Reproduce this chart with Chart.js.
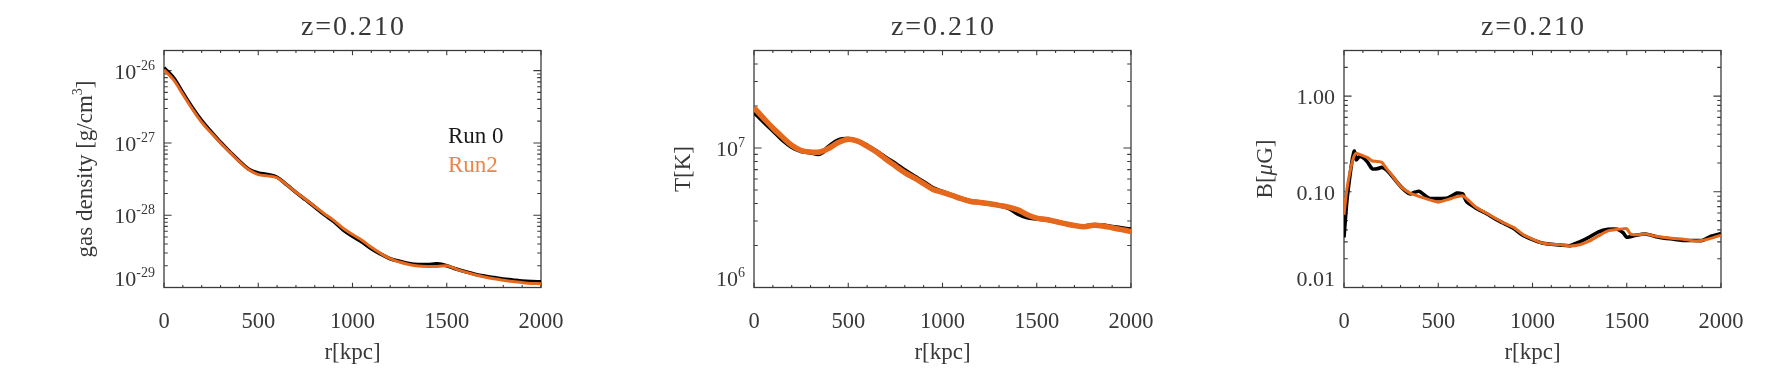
<!DOCTYPE html>
<html>
<head>
<meta charset="utf-8">
<script src="https://cdn.jsdelivr.net/npm/chart.js@4/dist/chart.umd.min.js"></script>
<style>
  html, body { margin: 0; padding: 0; background: #ffffff; }
  #wrap { position: relative; width: 1770px; height: 392px; overflow: hidden; }
  .panel { position: absolute; top: 0; width: 590px; height: 392px; }
  canvas { display: block; }
</style>
</head>
<body>
<div id="wrap">
  <div class="panel" style="left:0px"><canvas id="c1" width="590" height="392"></canvas></div>
  <div class="panel" style="left:590px"><canvas id="c2" width="590" height="392"></canvas></div>
  <div class="panel" style="left:1180px"><canvas id="c3" width="590" height="392"></canvas></div>
</div>
<script>
// ---------------- DATA ----------------
const titleText = 'z=0.210';
const seriesNames = ['Run 0', 'Run2'];

const rTicks = [0, 500, 1000, 1500, 2000];

// radius grid (kpc) for density and temperature profiles
const rGrid = [0, 50, 100, 150, 200, 250, 300, 350, 400, 450, 500, 550, 600, 650, 700, 750, 800, 850, 900, 950,
  1000, 1050, 1100, 1150, 1200, 1250, 1300, 1350, 1400, 1450, 1500, 1550, 1600, 1650, 1700, 1750, 1800, 1850, 1900, 1950, 2000];

// gas density [g/cm^3]
const densityRun0 = [1.10e-26, 8.0e-27, 4.95e-27, 3.1e-27, 2.04e-27, 1.43e-27, 1.02e-27, 7.5e-28, 5.6e-28, 4.33e-28,
  3.85e-28, 3.65e-28, 3.35e-28, 2.65e-28, 2.07e-28, 1.64e-28, 1.30e-28, 1.02e-28, 8.2e-29, 6.3e-29,
  5.1e-29, 4.25e-29, 3.45e-29, 2.9e-29, 2.5e-29, 2.3e-29, 2.15e-29, 2.08e-29, 2.08e-29, 2.12e-29,
  2.0e-29, 1.8e-29, 1.65e-29, 1.53e-29, 1.44e-29, 1.37e-29, 1.31e-29, 1.27e-29, 1.23e-29, 1.21e-29, 1.20e-29];
const densityRun2 = [1.03e-26, 7.5e-27, 4.7e-27, 2.95e-27, 1.93e-27, 1.38e-27, 1.0e-27, 7.4e-28, 5.5e-28, 4.25e-28,
  3.65e-28, 3.5e-28, 3.3e-28, 2.65e-28, 2.08e-28, 1.66e-28, 1.32e-28, 1.05e-28, 8.5e-29, 6.6e-29,
  5.4e-29, 4.5e-29, 3.6e-29, 2.95e-29, 2.5e-29, 2.25e-29, 2.08e-29, 1.98e-29, 1.95e-29, 1.95e-29,
  2.0e-29, 1.8e-29, 1.63e-29, 1.5e-29, 1.4e-29, 1.32e-29, 1.26e-29, 1.21e-29, 1.17e-29, 1.14e-29, 1.13e-29];
const densityTicks = [1e-29, 1e-28, 1e-27, 1e-26];
const densityTickExps = ['-29', '-28', '-27', '-26'];

// temperature [K]
const tempRun0 = [1.81e7, 1.55e7, 1.34e7, 1.15e7, 1.02e7, 9.5e6, 9.3e6, 9.1e6, 1.03e7, 1.14e7,
  1.16e7, 1.12e7, 1.04e7, 9.45e6, 8.5e6, 7.7e6, 6.9e6, 6.25e6, 5.7e6, 5.15e6,
  4.85e6, 4.58e6, 4.34e6, 4.15e6, 4.07e6, 3.98e6, 3.88e6, 3.72e6, 3.38e6, 3.18e6,
  3.12e6, 3.07e6, 2.97e6, 2.87e6, 2.78e6, 2.74e6, 2.80e6, 2.78e6, 2.72e6, 2.66e6, 2.60e6];
const tempRun2 = [1.94e7, 1.64e7, 1.39e7, 1.20e7, 1.045e7, 9.6e6, 9.36e6, 9.36e6, 1.0e7, 1.10e7,
  1.155e7, 1.12e7, 1.03e7, 9.36e6, 8.3e6, 7.43e6, 6.66e6, 6.1e6, 5.55e6, 5.05e6,
  4.81e6, 4.57e6, 4.33e6, 4.14e6, 4.07e6, 3.98e6, 3.88e6, 3.77e6, 3.6e6, 3.32e6,
  3.14e6, 3.07e6, 2.97e6, 2.87e6, 2.78e6, 2.73e6, 2.79e6, 2.76e6, 2.68e6, 2.60e6, 2.52e6];
const tempTicks = [1e6, 1e7];
const tempTickExps = ['6', '7'];

// magnetic field [muG]
const rB = [0, 15, 30, 45, 55, 65, 80, 100, 125, 150, 175, 200, 225, 250, 300, 350, 375, 400, 450, 500,
  550, 600, 630, 650, 700, 750, 800, 850, 900, 950, 1000, 1050, 1100, 1150, 1200, 1250, 1300, 1350,
  1400, 1450, 1480, 1500, 1520, 1550, 1600, 1650, 1700, 1750, 1800, 1850, 1900, 1950, 2000];
const bRun0 = [0.0334, 0.079, 0.139, 0.224, 0.267, 0.216, 0.233, 0.228, 0.204, 0.174, 0.174, 0.18, 0.17, 0.15,
  0.114, 0.095, 0.099, 0.101, 0.086, 0.085, 0.086, 0.097, 0.095, 0.079, 0.0676, 0.060, 0.0525, 0.0465,
  0.0413, 0.035, 0.0316, 0.0292, 0.0283, 0.0277, 0.0274, 0.030, 0.0335, 0.0381, 0.0405, 0.0406, 0.0375,
  0.0335, 0.034, 0.0352, 0.0362, 0.0342, 0.0328, 0.032, 0.031, 0.031, 0.031, 0.0345, 0.0366];
const bRun2 = [0.0576, 0.105, 0.156, 0.21, 0.24, 0.253, 0.247, 0.239, 0.228, 0.21, 0.208, 0.204, 0.176, 0.153,
  0.114, 0.097, 0.093, 0.089, 0.083, 0.078, 0.083, 0.089, 0.091, 0.085, 0.069, 0.0608, 0.0533, 0.047,
  0.0425, 0.0358, 0.032, 0.0292, 0.0283, 0.028, 0.0272, 0.028, 0.0305, 0.0346, 0.039, 0.0405, 0.041,
  0.0412, 0.0362, 0.0355, 0.0362, 0.0345, 0.0333, 0.0325, 0.032, 0.0308, 0.031, 0.0328, 0.0352];
const bTicks = [0.01, 0.1, 1];
const bTickLabels = ['0.01', '0.10', '1.00'];

// ---------------- STYLE ----------------
const FONT = '"Liberation Serif", "Times New Roman", Times, serif';
const TEXT = '#383838';
const AXIS = '#3c3c3c';
const BLACK = '#000000';
const ORANGE = '#E5681C';

function pts(xs, ys) { return xs.map((x, i) => ({ x: x, y: ys[i] })); }

function idlPlugin(p) {
  return {
    id: 'idl' + p.id,
    beforeDatasetsDraw(chart) {
      const ctx = chart.ctx, a = chart.chartArea, xs = chart.scales.x, ys = chart.scales.y;
      ctx.save();
      ctx.strokeStyle = AXIS;
      ctx.lineWidth = 1.3;
      ctx.strokeRect(a.left, a.top, a.right - a.left, a.bottom - a.top);
      ctx.lineWidth = 1.1;
      ctx.beginPath();
      // x ticks (major every 500, minor every 100), top and bottom, inward
      for (let v = xs.min; v <= xs.max + 1e-9; v += 100) {
        const px = xs.getPixelForValue(v);
        const len = rTicks.includes(v) ? 4.8 : 2.4;
        ctx.moveTo(px, a.bottom); ctx.lineTo(px, a.bottom - len);
        ctx.moveTo(px, a.top); ctx.lineTo(px, a.top + len);
      }
      // y ticks: log decades with 2..9 minors, left and right, inward
      const d0 = Math.floor(Math.log10(ys.min) - 1e-9), d1 = Math.ceil(Math.log10(ys.max));
      for (let d = d0; d <= d1; d++) {
        for (let m = 1; m <= 9; m++) {
          const v = m * Math.pow(10, d);
          if (v < ys.min * 0.999 || v > ys.max * 1.001) continue;
          const py = ys.getPixelForValue(v);
          const len = m === 1 ? 7.6 : 3.8;
          ctx.moveTo(a.left, py); ctx.lineTo(a.left + len, py);
          ctx.moveTo(a.right, py); ctx.lineTo(a.right - len, py);
        }
      }
      ctx.stroke();
      ctx.restore();
    },
    afterDraw(chart) {
      const ctx = chart.ctx, a = chart.chartArea, xs = chart.scales.x, ys = chart.scales.y;
      const cx = (a.left + a.right) / 2, cy = (a.top + a.bottom) / 2;
      ctx.save();
      ctx.fillStyle = TEXT;
      // title
      ctx.font = '28px ' + FONT;
      ctx.textAlign = 'center';
      ctx.textBaseline = 'alphabetic';
      try { ctx.letterSpacing = '2px'; } catch (e) {}
      ctx.fillText(titleText, cx + 1, 35);
      try { ctx.letterSpacing = '0px'; } catch (e) {}
      // x tick labels
      ctx.font = '22.5px ' + FONT;
      for (const v of rTicks) ctx.fillText(String(v), xs.getPixelForValue(v), a.bottom + 40);
      // x title
      ctx.font = '23px ' + FONT;
      ctx.fillText('r[kpc]', cx, 359);
      // y tick labels
      const right = a.left - 9;
      ctx.textAlign = 'left';
      p.yTicks.forEach((v, i) => {
        const py = ys.getPixelForValue(v);
        const atBottom = Math.abs(v - ys.min) / v < 1e-6;
        const base = atBottom ? py - 1.5 : py + 8;
        if (p.yExps) {
          ctx.font = '14px ' + FONT;
          const we = ctx.measureText(p.yExps[i]).width;
          ctx.font = '22px ' + FONT;
          const wb = ctx.measureText('10').width;
          ctx.fillText('10', right - we - wb, base);
          ctx.font = '14px ' + FONT;
          ctx.fillText(p.yExps[i], right - we, base - 9);
        } else {
          ctx.font = '22px ' + FONT;
          const w = ctx.measureText(p.yLabels[i]).width;
          ctx.fillText(p.yLabels[i], right - w, base);
        }
      });
      // y title (rotated)
      ctx.save();
      ctx.translate(p.yTitleX, cy);
      ctx.rotate(-Math.PI / 2);
      const parts = p.yTitle;
      let total = 0;
      parts.forEach(s => { ctx.font = s.font; total += ctx.measureText(s.t).width; });
      let x0 = -total / 2;
      parts.forEach(s => {
        ctx.font = s.font;
        ctx.fillText(s.t, x0, s.dy || 0);
        x0 += ctx.measureText(s.t).width;
      });
      ctx.restore();
      // legend
      if (p.legend) {
        ctx.font = '23px ' + FONT;
        ctx.fillStyle = '#1a1a1a';
        ctx.fillText(seriesNames[0], 448, 143);
        ctx.fillStyle = '#EE8546';
        ctx.fillText(seriesNames[1], 448, 172);
      }
      ctx.restore();
    }
  };
}

function makeChart(p) {
  return new Chart(document.getElementById(p.id), {
    type: 'line',
    data: {
      datasets: [
        { label: seriesNames[0], data: pts(p.xs, p.y0), borderColor: BLACK, borderWidth: p.w0,
          pointRadius: 0, tension: p.tension, order: 2, fill: false },
        { label: seriesNames[1], data: pts(p.xs, p.y2), borderColor: ORANGE, borderWidth: p.w2,
          pointRadius: 0, tension: p.tension, order: 1, fill: false }
      ]
    },
    options: {
      responsive: false,
      animation: false,
      devicePixelRatio: 1,
      events: [],
      layout: { padding: { left: 164, right: 49, top: 50.5, bottom: 104.5 } },
      plugins: { legend: { display: false }, tooltip: { enabled: false }, title: { display: false } },
      scales: {
        x: { type: 'linear', min: 0, max: 2000, display: false },
        y: { type: 'logarithmic', min: p.yMin, max: p.yMax, display: false }
      }
    },
    plugins: [idlPlugin(p)]
  });
}

const F23 = '23px ' + FONT, F14 = '14px ' + FONT;

makeChart({
  id: 'c1', xs: rGrid, y0: densityRun0, y2: densityRun2, w0: 3.6, w2: 3, tension: 0.35,
  yMin: 1e-29, yMax: 1.9e-26, yTicks: densityTicks, yExps: densityTickExps,
  yTitleX: 92, legend: true,
  yTitle: [{ t: 'gas density [g/cm', font: F23 }, { t: '3', font: F14, dy: -10 }, { t: ']', font: F23 }]
});
makeChart({
  id: 'c2', xs: rGrid, y0: tempRun0, y2: tempRun2, w0: 4.5, w2: 5.5, tension: 0.35,
  yMin: 1e6, yMax: 5e7, yTicks: tempTicks, yExps: tempTickExps,
  yTitleX: 100, legend: false,
  yTitle: [{ t: 'T[K]', font: F23 }]
});
makeChart({
  id: 'c3', xs: rB, y0: bRun0, y2: bRun2, w0: 3.6, w2: 3, tension: 0.2,
  yMin: 0.01, yMax: 3, yTicks: bTicks, yLabels: bTickLabels,
  yTitleX: 92, legend: false,
  yTitle: [{ t: 'B[', font: F23 }, { t: 'μ', font: 'italic 23px ' + FONT }, { t: 'G]', font: F23 }]
});
</script>
</body>
</html>
